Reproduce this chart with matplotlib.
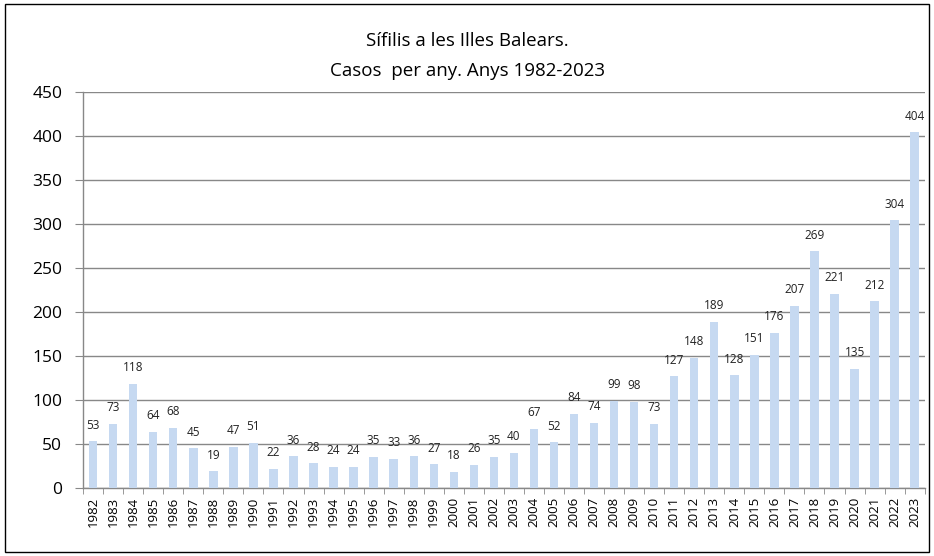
import matplotlib
matplotlib.use("Agg")
import matplotlib.pyplot as plt
import numpy as np

plt.rcParams['font.family'] = ['Open Sans', 'DejaVu Sans']

years = [str(y) for y in range(1982, 2024)]
cases = [53, 73, 118, 64, 68, 45, 19, 47, 51, 22,
         36, 28, 24, 24, 35, 33, 36, 27, 18, 26,
         35, 40, 67, 52, 84, 74, 99, 98, 73, 127,
         148, 189, 128, 151, 176, 207, 269, 221, 135, 212,
         304, 404]
yticks = list(range(0, 451, 50))

fig = plt.figure(figsize=(9.34, 5.56), dpi=100)
ax = fig.add_axes([0.089, 0.1223, 0.901, 0.7122])

x = np.arange(len(years))
bars = ax.bar(x, cases, width=0.42, color='#c6d9f1', zorder=3)

for xi, v in zip(x, cases):
    ax.annotate(str(v), (xi, v), xytext=(0, 7), textcoords='offset points',
                ha='center', va='bottom', fontsize=8.5, color='#222222')

ax.set_xlim(-0.5, len(years) - 0.5)
ax.set_ylim(0, 450)
ax.set_yticks(yticks)
ax.tick_params(axis='y', labelsize=12.5, length=6, color='#888888', pad=9)
ax.set_xticks(x)
ax.set_xticklabels(years, rotation=90, fontsize=9.5)
ax.set_xticks(np.arange(-0.5, len(years), 1), minor=True)
ax.tick_params(axis='x', which='major', length=0, pad=6.5)
ax.tick_params(axis='x', which='minor', length=4, color='#888888')

ax.yaxis.grid(True, color='#888888', linewidth=1, zorder=0)
for s in ['top', 'right']:
    ax.spines[s].set_visible(False)
for s in ['left', 'bottom']:
    ax.spines[s].set_color('#888888')
    ax.spines[s].set_linewidth(1)

fig.text(0.5, 0.927, 'Sífilis a les Illes Balears.', ha='center', va='center', fontsize=13.5)
fig.text(0.5, 0.873, 'Casos  per any. Anys 1982-2023', ha='center', va='center', fontsize=13.5)

border = plt.Rectangle((0.005, 0.007), 0.99, 0.986, transform=fig.transFigure,
                       fill=False, edgecolor='black', linewidth=1)
fig.patches.append(border)

fig.savefig('out.png', dpi=100)
